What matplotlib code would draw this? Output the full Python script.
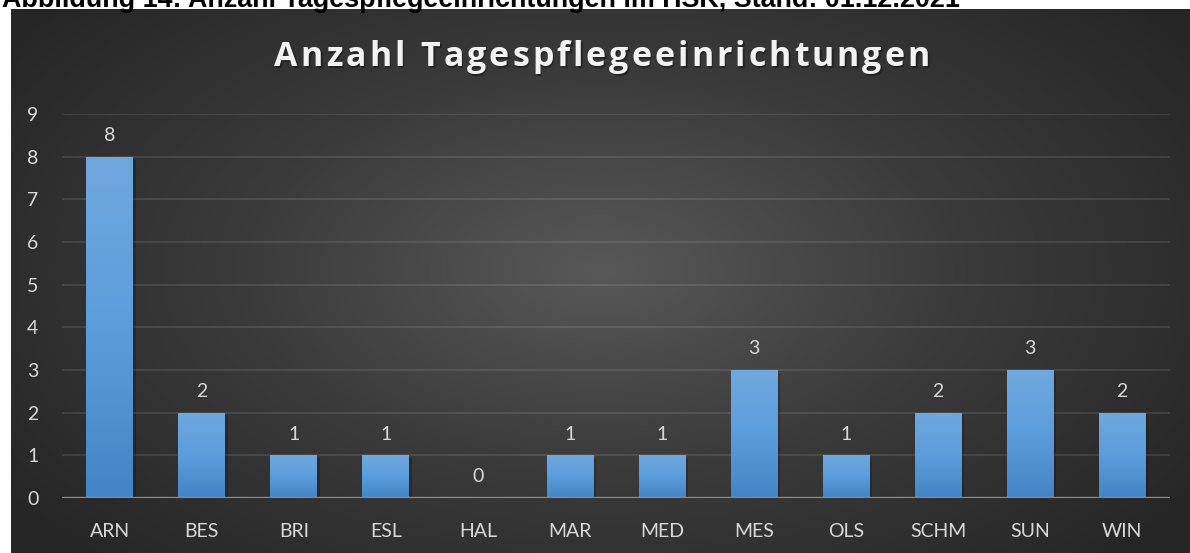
import numpy as np
import matplotlib.pyplot as plt
from matplotlib.colors import LinearSegmentedColormap

kreise = ['ARN', 'BES', 'BRI', 'ESL', 'HAL', 'MAR', 'MED', 'MES', 'OLS', 'SCHM', 'SUN', 'WIN']
anzahl = [8, 2, 1, 1, 0, 1, 1, 3, 1, 2, 3, 2]
yticks = [0, 1, 2, 3, 4, 5, 6, 7, 8, 9]
titel = 'Anzahl Tagespflegeeinrichtungen'
caption = 'Abbildung 14: Anzahl Tagespflegeeinrichtungen im HSK, Stand: 01.12.2021'

W, H = 1190, 553
fig = plt.figure(figsize=(W / 100, H / 100), dpi=100)
fig.patch.set_facecolor('white')

# dark panel with radial gradient
bg = fig.add_axes([11 / W, 0, (W - 11) / W, (H - 9) / H])
bg.set_axis_off()
yy, xx = np.mgrid[0:1:300j, 0:1:600j]
r = np.sqrt(((xx - 0.5) / 0.62) ** 2 + ((yy - 0.48) / 0.75) ** 2)
r = np.clip(r, 0, 1)
bg_cmap = LinearSegmentedColormap.from_list('bg', ['#585858', '#3a3a3a', '#262626'])
bg.imshow(r, cmap=bg_cmap, aspect='auto', extent=[0, 1, 0, 1], vmin=0, vmax=1)
bg.set_xlim(0, 1)
bg.set_ylim(0, 1)

ax = fig.add_axes([62 / W, (H - 498) / H, (1170 - 62) / W, (498 - 114) / H])
ax.patch.set_alpha(0)
ax.set_xlim(-0.52, 11.52)
ax.set_ylim(0, 9)

x = np.arange(len(kreise))
bw = 0.51
bars = ax.bar(x, anzahl, width=bw, color='#5596d4', zorder=3)

# vertical gradient inside each bar
bar_cmap = LinearSegmentedColormap.from_list('bar', ['#4384c6', '#5b9ddc', '#70a8de'])
grad = np.linspace(0, 1, 100).reshape(-1, 1)
for b, v in zip(bars, anzahl):
    if v == 0:
        continue
    # soft shadow
    ax.bar(b.get_x() + b.get_width() / 2 + 0.03, v, width=bw, bottom=-0.06,
           color='black', alpha=0.18, zorder=2, linewidth=0)
    im = ax.imshow(grad, cmap=bar_cmap, aspect='auto', origin='lower',
                   extent=[b.get_x(), b.get_x() + b.get_width(), 0, v], zorder=4)
    im.set_clip_path(b)

for xi, v in zip(x, anzahl):
    ax.text(xi, v + 0.3, str(v), ha='center', va='bottom', fontsize=14,
            family='Lato', color='#d9d9d9', zorder=5)

ax.set_yticks(yticks)
ax.set_xticks(x)
ax.set_xticklabels(kreise)
ax.tick_params(length=0, labelsize=14, labelcolor='#d9d9d9')
ax.tick_params(axis='y', pad=21)
ax.tick_params(axis='x', pad=18)
for lab in ax.get_xticklabels() + ax.get_yticklabels():
    lab.set_family('Lato')
for t in ax.get_yticklabels():
    t.set_horizontalalignment('center')

ax.grid(axis='y', color='white', alpha=0.11, linewidth=1.3, zorder=0)
ax.set_axisbelow(True)
for s in ax.spines.values():
    s.set_visible(False)
ax.axhline(0, color='#8c8c8c', linewidth=2.4, zorder=6)

# title with letter spacing: place characters one by one
renderer = fig.canvas.get_renderer()
tracking = 3.0
fs_title = 24.5
chars = []
total = 0
for ch in titel:
    t = fig.text(0, 0, ch if ch != ' ' else 'n', fontsize=fs_title, fontweight='bold',
                 family='Open Sans')
    w = t.get_window_extent(renderer).width
    if ch == ' ':
        w *= 0.45
    t.remove()
    chars.append((ch, w))
    total += w
total += tracking * (len(titel) - 1)
xpos = 602 - total / 2
for ch, w in chars:
    if ch != ' ':
        fig.text((xpos + 1.5) / W, 1 - 59 / H, ch, ha='left', va='center', fontsize=fs_title,
                 fontweight='bold', family='Open Sans', color='black', alpha=0.35)
        fig.text(xpos / W, 1 - 57 / H, ch, ha='left', va='center', fontsize=fs_title,
                 fontweight='bold', family='Open Sans', color='#f2f2f2')
    xpos += w + tracking

fig.text(2 / W, 1 - 7 / H, caption, ha='left', va='baseline', fontsize=19.4,
         fontweight='bold', family='Liberation Sans', color='black')

fig.savefig('out.png', dpi=100, facecolor=fig.get_facecolor())
